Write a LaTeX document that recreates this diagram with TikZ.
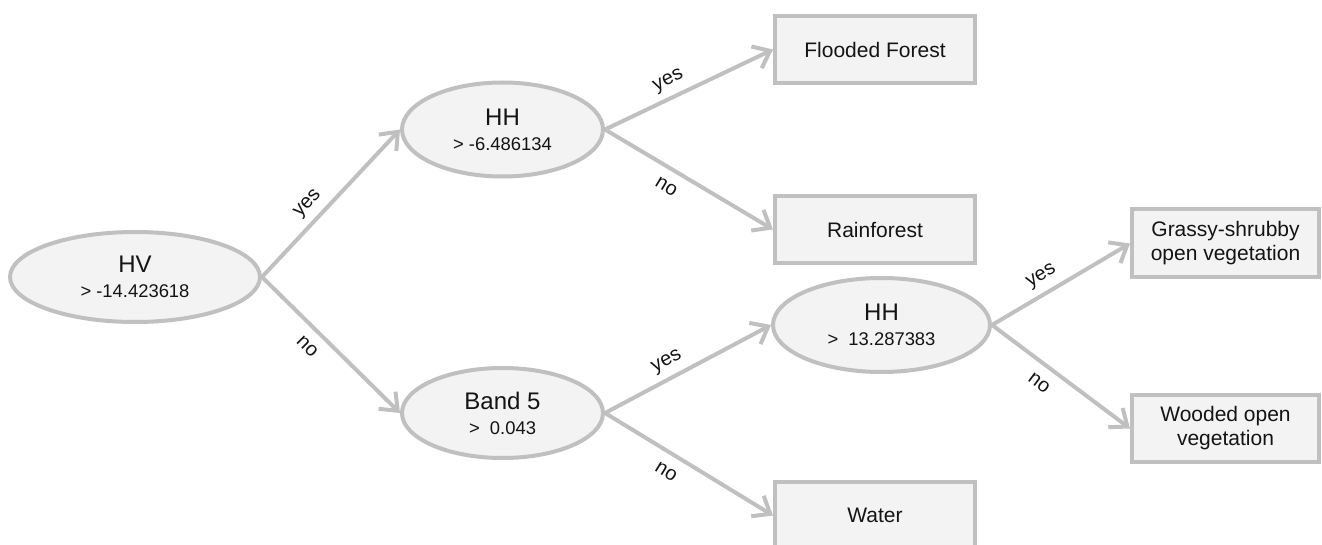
\documentclass[tikz,border=0pt]{standalone}
\usepackage{fontspec}
\setmainfont{Liberation Sans}
\usetikzlibrary{arrows.meta, shapes.geometric}

\definecolor{edgegray}{RGB}{192,192,192}
\definecolor{nodefill}{RGB}{243,243,243}
\definecolor{txtcol}{RGB}{20,20,20}

\tikzset{
  split/.style={ellipse, draw=edgegray, fill=nodefill, line width=2pt,
    align=center, inner sep=1pt, text=txtcol,
    font=\fontsize{12}{12.5}\selectfont},
  leaf/.style={rectangle, draw=edgegray, fill=nodefill, line width=2pt,
    align=center, minimum width=100pt, minimum height=33.5pt, inner sep=1pt,
    text=txtcol, font=\fontsize{10.5}{12}\selectfont},
  branch/.style={draw=edgegray, line width=2pt,
    -{Straight Barb[length=7.5pt, width=12pt]}},
  lbl/.style={font=\fontsize{10}{11}\selectfont, sloped, pos=0.42, text=txtcol},
}
\newcommand{\thresh}[1]{{\fontsize{9.2}{10}\selectfont #1}}

\begin{document}
\begin{tikzpicture}[x=0.5pt, y=-0.5pt]
  \clip (0,0) rectangle (1322,545);

  %% split nodes
  \node[split, minimum width=125pt, minimum height=45pt] (hv) at (135,277)
    {HV\\\thresh{> -14.423618}};
  \node[split, minimum width=100.5pt, minimum height=47pt] (hh1) at (502.5,129.5)
    {HH\\\thresh{> -6.486134}};
  \node[split, minimum width=100.5pt, minimum height=45pt] (b5) at (502.5,413)
    {Band 5\\\thresh{>\ \ 0.043}};
  \node[split, minimum width=108.5pt, minimum height=47pt] (hh2) at (881.5,325)
    {HH\\\thresh{>\ \ 13.287383}};

  %% leaves
  \node[leaf] (ff) at (875,49.5) {Flooded Forest};
  \node[leaf] (rf) at (875,229.5) {Rainforest};
  \node[leaf, minimum width=93.5pt, minimum height=34pt] (gs) at (1225.5,243.5)
    {Grassy-shrubby\\open vegetation};
  \node[leaf, minimum width=93.5pt] (wd) at (1225.5,428.5)
    {Wooded open\\vegetation};
  \node[leaf] (wt) at (875,515.5) {Water};

  %% branches
  \draw[branch] (hv.east) -- (hh1.west) node[lbl, above] {yes};
  \draw[branch] (hv.east) -- (b5.west) node[lbl, below=2pt] {no};
  \draw[branch] (hh1.east) -- (ff.west) node[lbl, above] {yes};
  \draw[branch] (hh1.east) -- (rf.west) node[lbl, below=2pt] {no};
  \draw[branch] (b5.east) -- (hh2.west) node[lbl, above] {yes};
  \draw[branch] (b5.east) -- (wt.west) node[lbl, below=2pt] {no};
  \draw[branch] (hh2.east) -- (gs.west) node[lbl, above] {yes};
  \draw[branch] (hh2.east) -- (wd.west) node[lbl, below=2pt] {no};
\end{tikzpicture}
\end{document}
